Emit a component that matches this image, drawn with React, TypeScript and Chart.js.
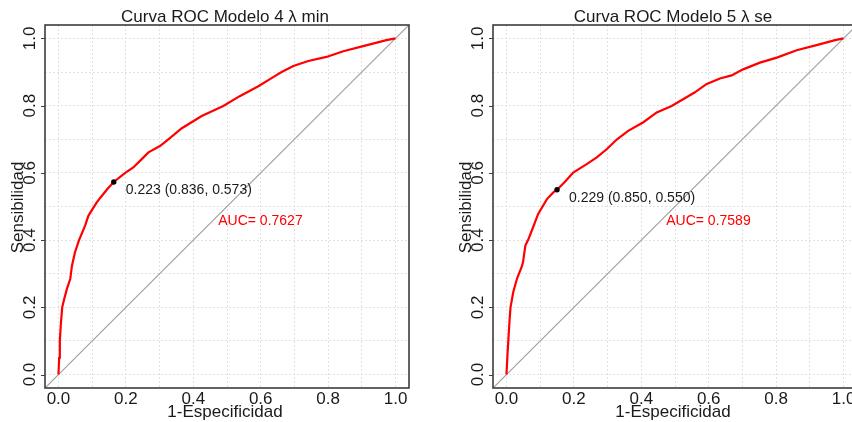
import React, { useEffect, useRef } from "react";
import { Chart, registerables } from "chart.js";

Chart.register(...registerables);

// ---- axis / tick definitions ----
const AXIS_MIN = -0.04;
const AXIS_MAX = 1.04;
const GRID_VALUES = [0, 0.1, 0.2, 0.3, 0.4, 0.5, 0.6, 0.7, 0.8, 0.9, 1.0];
const TICK_VALUES = [0, 0.2, 0.4, 0.6, 0.8, 1.0];
const TICK_LABELS = ["0.0", "0.2", "0.4", "0.6", "0.8", "1.0"];
const X_TITLE = "1-Especificidad";
const Y_TITLE = "Sensibilidad";

// ---- Modelo 4 (λ min) ----
const M4_TITLE = "Curva ROC Modelo 4 λ min";
const M4_FPR = [0, 0.002, 0.004, 0.007, 0.011, 0.017, 0.025, 0.035, 0.04, 0.049, 0.061, 0.079, 0.089, 0.114, 0.129, 0.145, 0.164, 0.198, 0.222, 0.247, 0.267, 0.301, 0.326, 0.366, 0.425, 0.489, 0.539, 0.593, 0.642, 0.662, 0.697, 0.741, 0.795, 0.845, 0.904, 0.973, 1.0];
const M4_TPR = [0, 0.05, 0.1, 0.15, 0.2, 0.225, 0.255, 0.285, 0.324, 0.364, 0.4, 0.443, 0.473, 0.513, 0.532, 0.552, 0.573, 0.6, 0.616, 0.641, 0.661, 0.68, 0.7, 0.733, 0.769, 0.799, 0.829, 0.858, 0.888, 0.9, 0.918, 0.933, 0.945, 0.962, 0.977, 0.995, 1.0];
const M4_BEST = [0.836, 0.573]; // specificity, sensitivity
const M4_THRESHOLD = 0.223;
const M4_AUC = 0.7627;

// ---- Modelo 5 (λ se) ----
const M5_TITLE = "Curva ROC Modelo 5 λ se";
const M5_FPR = [0, 0.003, 0.006, 0.009, 0.012, 0.02, 0.031, 0.045, 0.049, 0.056, 0.064, 0.077, 0.094, 0.12, 0.139, 0.15, 0.175, 0.198, 0.238, 0.268, 0.298, 0.328, 0.361, 0.405, 0.446, 0.49, 0.524, 0.558, 0.593, 0.633, 0.668, 0.702, 0.752, 0.802, 0.861, 0.92, 0.975, 1.0];
const M5_TPR = [0, 0.06, 0.11, 0.16, 0.2, 0.245, 0.285, 0.32, 0.334, 0.384, 0.4, 0.433, 0.478, 0.522, 0.542, 0.55, 0.575, 0.601, 0.626, 0.646, 0.671, 0.7, 0.725, 0.75, 0.78, 0.799, 0.819, 0.839, 0.864, 0.881, 0.89, 0.908, 0.928, 0.943, 0.965, 0.98, 0.995, 1.0];
const M5_BEST = [0.85, 0.55];
const M5_THRESHOLD = 0.229;
const M5_AUC = 0.7589;

// AUC label anchor (data coords, 1-spec / sens)
const AUC_POS = [0.474, 0.455];

const FONT_FAMILY = '"Liberation Sans", Arial, Helvetica, sans-serif';

type PanelProps = {
  title: string;
  fpr: number[];
  tpr: number[];
  best: number[];
  threshold: number;
  auc: number;
  left: number;
};

function RocPanel({ title, fpr, tpr, best, threshold, auc, left }: PanelProps) {
  const ref = useRef<HTMLCanvasElement | null>(null);

  useEffect(() => {
    if (!ref.current) return;
    const decor = {
      id: "rocDecor",
      afterDraw(chart: any) {
        const { ctx, chartArea: a } = chart;
        const xs = chart.scales.x;
        const ys = chart.scales.y;
        ctx.save();
        // box
        ctx.strokeStyle = "#3c3c3c";
        ctx.lineWidth = 1.6;
        ctx.strokeRect(a.left, a.top, a.right - a.left, a.bottom - a.top);
        // y tick marks
        ctx.lineWidth = 1;
        TICK_VALUES.forEach((v) => {
          const py = Math.round(ys.getPixelForValue(v)) + 0.5;
          ctx.beginPath();
          ctx.moveTo(a.left - 4, py);
          ctx.lineTo(a.left, py);
          ctx.stroke();
        });
        // tick labels
        ctx.fillStyle = "#1a1a1a";
        ctx.font = `17px ${FONT_FAMILY}`;
        ctx.textAlign = "center";
        ctx.textBaseline = "middle";
        TICK_VALUES.forEach((v, i) => {
          ctx.fillText(TICK_LABELS[i], xs.getPixelForValue(v), a.bottom + 11);
        });
        TICK_VALUES.forEach((v, i) => {
          ctx.save();
          ctx.translate(a.left - 15, ys.getPixelForValue(v));
          ctx.rotate(-Math.PI / 2);
          ctx.fillText(TICK_LABELS[i], 0, 0);
          ctx.restore();
        });
        // axis titles
        ctx.fillText(X_TITLE, (a.left + a.right) / 2 - 2, a.bottom + 24);
        ctx.save();
        ctx.translate(a.left - 27, (a.top + a.bottom) / 2 + 1);
        ctx.rotate(-Math.PI / 2);
        ctx.fillText(Y_TITLE, 0, 0);
        ctx.restore();
        // main title
        ctx.fillText(title, (a.left + a.right) / 2 - 2, a.top - 8);
        // threshold annotation
        ctx.font = `14px ${FONT_FAMILY}`;
        ctx.textAlign = "left";
        const bx = xs.getPixelForValue(1 - best[0]);
        const by = ys.getPixelForValue(best[1]);
        ctx.fillStyle = "#1a1a1a";
        ctx.fillText(
          `${threshold.toFixed(3)} (${best[0].toFixed(3)}, ${best[1].toFixed(3)})`,
          bx + 12,
          by + 8
        );
        // AUC
        ctx.fillStyle = "#ff0000";
        ctx.fillText(`AUC= ${auc.toFixed(4)}`, xs.getPixelForValue(AUC_POS[0]), ys.getPixelForValue(AUC_POS[1]));
        ctx.restore();
      },
    };

    const gridScale = (axis: "x" | "y") => ({
      type: "linear" as const,
      min: AXIS_MIN,
      max: AXIS_MAX,
      ticks: { display: false },
      grid: { color: "#e2e2e2", lineWidth: 1, drawTicks: false },
      border: { display: false, dash: [2, 2] },
      afterBuildTicks: (s: any) => {
        s.ticks = GRID_VALUES.map((v) => ({ value: v }));
      },
      afterFit: (s: any) => {
        if (axis === "x") s.height = 0;
        else s.width = 0;
      },
    });

    const chart = new Chart(ref.current, {
      type: "scatter",
      data: {
        datasets: [
          {
            data: [{ x: 1 - best[0], y: best[1] }],
            showLine: false,
            pointRadius: 2.7,
            pointBackgroundColor: "#000",
            pointBorderColor: "#000",
            pointBorderWidth: 0,
          },
          {
            data: fpr.map((x, i) => ({ x, y: tpr[i] })),
            showLine: true,
            borderColor: "#ff0000",
            borderWidth: 2.2,
            pointRadius: 0,
            tension: 0,
          },
          {
            data: [
              { x: AXIS_MIN, y: AXIS_MIN },
              { x: AXIS_MAX, y: AXIS_MAX },
            ],
            showLine: true,
            borderColor: "#a0a0a0",
            borderWidth: 1.2,
            pointRadius: 0,
          },
        ],
      },
      options: {
        animation: false,
        responsive: false,
        events: [],
        layout: { padding: { left: 45, top: 25, right: 39, bottom: 34 } },
        plugins: {
          legend: { display: false },
          tooltip: { enabled: false },
          title: { display: false },
        },
        scales: {
          x: gridScale("x"),
          y: gridScale("y"),
        },
      } as any,
      plugins: [decor],
    });
    return () => chart.destroy();
  }, [title, fpr, tpr, best, threshold, auc]);

  return (
    <canvas
      ref={ref}
      width={448}
      height={422}
      style={{ position: "absolute", left, top: 0, width: 448, height: 422 }}
    />
  );
}

export default function App() {
  return (
    <div
      style={{
        position: "fixed",
        left: 0,
        top: 0,
        width: 852,
        height: 422,
        overflow: "hidden",
        background: "#fff",
      }}
    >
      <RocPanel title={M4_TITLE} fpr={M4_FPR} tpr={M4_TPR} best={M4_BEST} threshold={M4_THRESHOLD} auc={M4_AUC} left={0} />
      <RocPanel title={M5_TITLE} fpr={M5_FPR} tpr={M5_TPR} best={M5_BEST} threshold={M5_THRESHOLD} auc={M5_AUC} left={448} />
    </div>
  );
}
